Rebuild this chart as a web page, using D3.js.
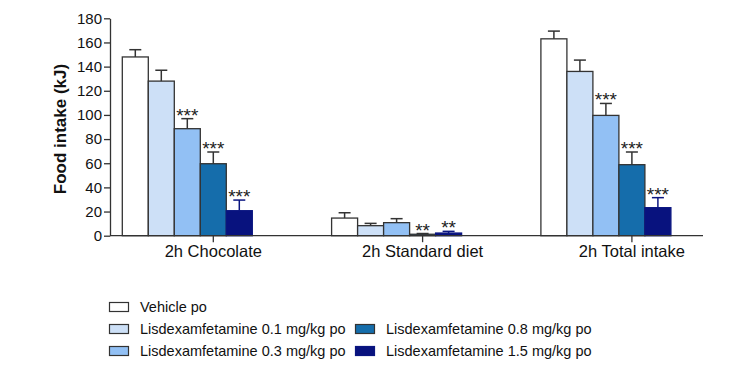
<!DOCTYPE html>
<html>
<head>
<meta charset="utf-8">
<script src="https://cdn.jsdelivr.net/npm/d3@7"></script>
<style>
  html, body { margin: 0; padding: 0; background: #fff; }
  svg { display: block; font-family: "Liberation Sans", Arial, sans-serif; }
</style>
</head>
<body>
<svg id="chart" width="736" height="376"></svg>
<script>
const categories = ["2h Chocolate", "2h Standard diet", "2h Total intake"];
const seriesNames = [
  "Vehicle po",
  "Lisdexamfetamine 0.1 mg/kg po",
  "Lisdexamfetamine 0.3 mg/kg po",
  "Lisdexamfetamine 0.8 mg/kg po",
  "Lisdexamfetamine 1.5 mg/kg po"
];
// mean values per series, one per category
const vehicle = [148, 14.6, 163];
const lis01 = [128, 8.3, 136];
const lis03 = [88.6, 10.8, 99.6];
const lis08 = [59.6, 1.2, 58.8];
const lis15 = [20.7, 2.2, 23.2];
// upper error (mean + SEM)
const vehicleErr = [154, 19, 169.4];
const lis01Err = [137, 10.2, 145.4];
const lis03Err = [96.9, 14.1, 109.5];
const lis08Err = [69.3, 1.8, 69.3];
const lis15Err = [29.5, 3.6, 31.5];
// significance marks
const vehicleSig = ["", "", ""];
const lis01Sig = ["", "", ""];
const lis03Sig = ["***", "", "***"];
const lis08Sig = ["***", "**", "***"];
const lis15Sig = ["***", "**", "***"];
const yTicks = [0, 20, 40, 60, 80, 100, 120, 140, 160, 180];

const fills = ["#ffffff", "#cde0f7", "#92c0f4", "#156dab", "#08127e"];
const strokes = ["#333333", "#333333", "#333333", "#333333", "#0a1580"];

const values = [vehicle, lis01, lis03, lis08, lis15];
const errs = [vehicleErr, lis01Err, lis03Err, lis08Err, lis15Err];
const sigs = [vehicleSig, lis01Sig, lis03Sig, lis08Sig, lis15Sig];

const data = [];
categories.forEach((c, ci) => {
  seriesNames.forEach((s, si) => {
    data.push({cat: c, series: s, si, v: values[si][ci], e: errs[si][ci], sig: sigs[si][ci]});
  });
});

const svg = d3.select("#chart");
const axisLeftX = 110, axisRightX = 703;
const y = d3.scaleLinear().domain([0, 180]).range([235.7, 18.3]);

const groupStep = 209.3, groupWidth = 130;
const x0 = d3.scaleBand().domain(categories)
  .range([122.3, 122.3 + 2 * groupStep + groupWidth])
  .paddingInner((groupStep - groupWidth) / groupStep).paddingOuter(0).align(0);
const x1 = d3.scaleBand().domain(seriesNames).range([0, x0.bandwidth()]);

// bars
const g = svg.append("g");
g.selectAll("rect.bar").data(data).join("rect")
  .attr("class", "bar")
  .attr("x", d => x0(d.cat) + x1(d.series))
  .attr("y", d => y(d.v))
  .attr("width", x1.bandwidth())
  .attr("height", d => y(0) - y(d.v))
  .attr("fill", d => fills[d.si])
  .attr("stroke", d => strokes[d.si])
  .attr("stroke-width", 1.3);

// error bars
const capW = 12;
const cx = d => x0(d.cat) + x1(d.series) + x1.bandwidth() / 2;
g.selectAll("line.err").data(data).join("line")
  .attr("class", "err")
  .attr("x1", cx).attr("x2", cx)
  .attr("y1", d => y(d.v))
  .attr("y2", d => y(d.e))
  .attr("stroke", d => strokes[d.si]).attr("stroke-width", 1.5);
g.selectAll("line.cap").data(data).join("line")
  .attr("class", "cap")
  .attr("x1", d => cx(d) - capW / 2)
  .attr("x2", d => cx(d) + capW / 2)
  .attr("y1", d => y(d.e))
  .attr("y2", d => y(d.e))
  .attr("stroke", d => strokes[d.si]).attr("stroke-width", 1.5);

// significance stars
g.selectAll("text.sig").data(data.filter(d => d.sig)).join("text")
  .attr("class", "sig")
  .attr("x", cx)
  .attr("y", d => y(d.e) + 3)
  .attr("text-anchor", "middle")
  .attr("font-size", 19)
  .attr("fill", "#222")
  .text(d => d.sig);

// y axis
const yAxis = svg.append("g").attr("transform", `translate(${axisLeftX},0)`)
  .call(d3.axisLeft(y).tickValues(yTicks).tickSize(6).tickPadding(2).tickSizeOuter(0));
yAxis.select(".domain").attr("stroke", "#333").attr("stroke-width", 1.3);
yAxis.selectAll(".tick line").attr("stroke", "#333").attr("stroke-width", 1.3);
yAxis.selectAll(".tick text").attr("font-size", 15).attr("fill", "#111")
  .attr("font-family", "Liberation Sans, Arial, sans-serif");

// x axis line
svg.append("line")
  .attr("x1", axisLeftX).attr("x2", axisRightX)
  .attr("y1", y(0)).attr("y2", y(0))
  .attr("stroke", "#333").attr("stroke-width", 1.3);
const tickX = c => x0(c) + x1(seriesNames[3]) + x1.bandwidth() / 2;
svg.selectAll("line.xtick").data(categories).join("line")
  .attr("class", "xtick")
  .attr("x1", tickX).attr("x2", tickX)
  .attr("y1", y(0)).attr("y2", y(0) + 6.5)
  .attr("stroke", "#333").attr("stroke-width", 1.3);
svg.selectAll("text.xlab").data(categories).join("text")
  .attr("class", "xlab")
  .attr("x", tickX)
  .attr("y", y(0) + 21.5)
  .attr("text-anchor", "middle")
  .attr("font-size", 16.5)
  .attr("fill", "#111")
  .text(d => d);

// y axis title
svg.append("text")
  .attr("transform", `translate(66,${(y(0) + y(180)) / 2 + 2}) rotate(-90)`)
  .attr("text-anchor", "middle")
  .attr("font-size", 17)
  .attr("font-weight", "bold")
  .attr("fill", "#111")
  .text("Food intake (kJ)");

// legend
const legendPos = [
  {col: 0, row: 0}, {col: 0, row: 1}, {col: 0, row: 2}, {col: 1, row: 1}, {col: 1, row: 2}
];
const colX = [109.5, 355.5];
const rowY = [307, 329, 351];
const leg = svg.append("g");
seriesNames.forEach((s, i) => {
  const p = legendPos[i];
  leg.append("rect")
    .attr("x", colX[p.col]).attr("y", rowY[p.row] - 4.5)
    .attr("width", 19).attr("height", 9)
    .attr("fill", fills[i]).attr("stroke", strokes[i]).attr("stroke-width", 1.2);
  leg.append("text")
    .attr("x", colX[p.col] + 30.5).attr("y", rowY[p.row] + 5)
    .attr("font-size", 14.5).attr("fill", "#111")
    .text(s);
});
</script>
</body>
</html>
